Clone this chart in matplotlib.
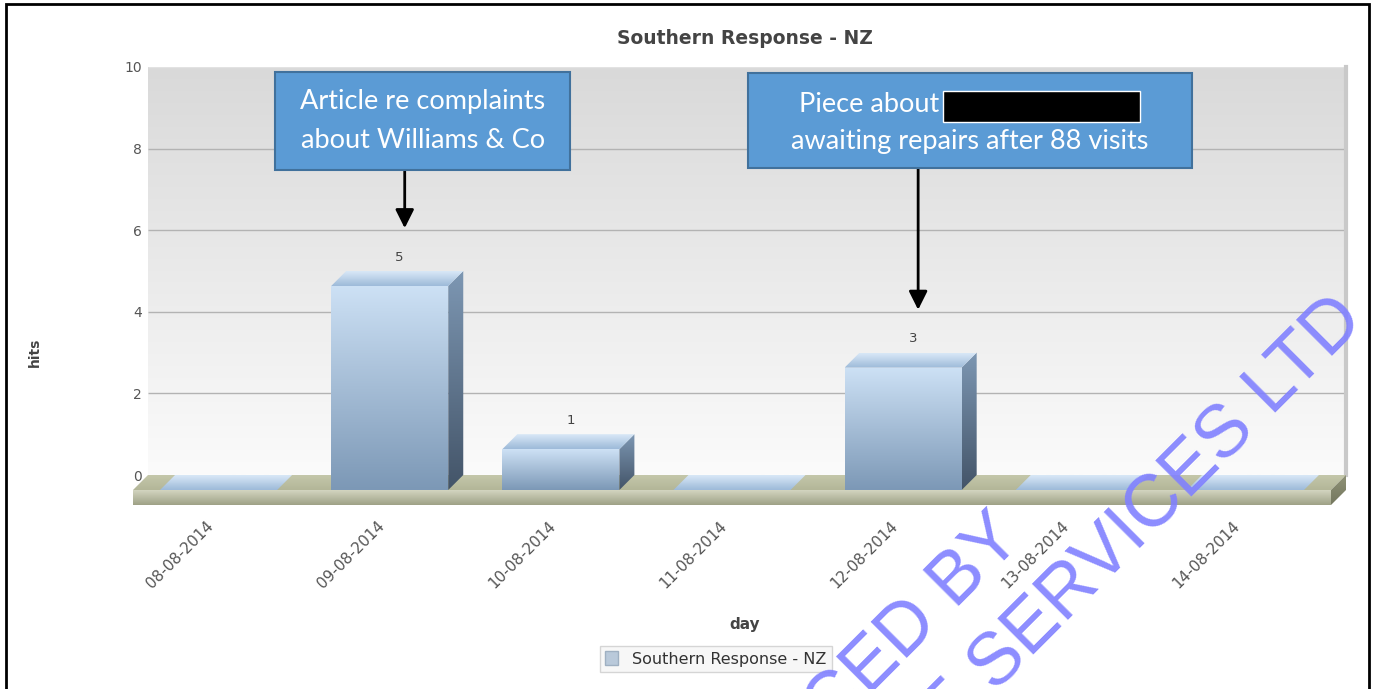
import matplotlib
matplotlib.use("Agg")
import matplotlib.pyplot as plt
import matplotlib.transforms as mtransforms
from matplotlib.patches import Polygon, Rectangle, Patch
from matplotlib.colors import LinearSegmentedColormap
import numpy as np

# data
days = ["08-08-2014", "09-08-2014", "10-08-2014", "11-08-2014",
        "12-08-2014", "13-08-2014", "14-08-2014"]
hits = [0, 5, 1, 0, 3, 0, 0]
y_ticks = [0, 2, 4, 6, 8, 10]

series_name = "Southern Response - NZ"
note_1_top = "Article re complaints"
note_1_bottom = "about Williams & Co"
note_2_top = "Piece about"
note_2_bottom = "awaiting repairs after 88 visits"
note_bars = [1, 4]
mark_1 = "PRODUCED BY"
mark_2 = "SOUTHERN RESPONSE EARTHQUAKE SERVICES LTD"

W, H = 1376, 689
fig = plt.figure(figsize=(W / 100, H / 100), dpi=100)
fig.patch.set_facecolor("white")


def fx(px):
    return px / W


def fy(py):  # py counted from the top of the picture
    return 1 - py / H


# depth of the fake 3d look, in data units
dx = 15 / 171.14
dy = 0.3676

ax = fig.add_axes([fx(133), fy(505), fx(1346) - fx(133), fy(67) - fy(505)])
ax.set_xlim(-0.5 - dx, 6.5)
ax.set_ylim(-2 * dy, 10)
ax.set_facecolor("none")
for s in ax.spines.values():
    s.set_visible(False)


def grad_poly(pts, c_end, c_start, z, horiz=False):
    poly = Polygon(pts, closed=True, facecolor="none", edgecolor="none", zorder=z)
    ax.add_patch(poly)
    xs = [p[0] for p in pts]
    ys = [p[1] for p in pts]
    cmap = LinearSegmentedColormap.from_list("g", [c_start, c_end])
    g = np.linspace(0, 1, 256).reshape(-1, 1)
    if horiz:
        g = g.T
    im = ax.imshow(g, cmap=cmap, extent=(min(xs), max(xs), min(ys), max(ys)),
                   origin="lower", aspect="auto", zorder=z, interpolation="bilinear")
    im.set_clip_path(poly)


# back wall
grad_poly([(-0.5, 0), (6.5, 0), (6.5, 10), (-0.5, 10)], "#d9d9d9", "#fbfbfb", 1)
ax.hlines(y_ticks[1:-1], -0.5, 6.5, color="#b3b3b3", lw=1, zorder=2)
ax.hlines([10], -0.5, 6.5, color="#e2e2e2", lw=1, zorder=2)
ax.plot([6.5, 6.5], [0, 10], color="#c9c9c9", lw=3, zorder=2, clip_on=False)

# floor slab
grad_poly([(-0.5, 0), (6.5, 0), (6.5 - dx, -dy), (-0.5 - dx, -dy)], "#c4c7aa", "#b3b698", 3)
grad_poly([(-0.5 - dx, -dy), (6.5 - dx, -dy), (6.5 - dx, -2 * dy), (-0.5 - dx, -2 * dy)],
          "#d3d5c0", "#9ea186", 3)
grad_poly([(6.5 - dx, -dy), (6.5, 0), (6.5, -dy), (6.5 - dx, -2 * dy)], "#8f9277", "#74775e", 3)

# bars
w = 0.684
for i, v in enumerate(hits):
    xl, xr = i - w / 2, i + w / 2
    if v > 0:
        grad_poly([(xl - dx, -dy), (xr - dx, -dy), (xr - dx, v - dy), (xl - dx, v - dy)],
                  "#cde1f5", "#7c98b6", 5)
        grad_poly([(xr - dx, -dy), (xr, 0), (xr, v), (xr - dx, v - dy)],
                  "#7d97b3", "#435468", 5)
        ax.text(i - 0.03, v + 0.34, str(v), ha="center", va="center",
                fontsize=9.5, color="#444444", zorder=8)
    grad_poly([(xl - dx, v - dy), (xr - dx, v - dy), (xr, v), (xl, v)],
              "#d9e8f7", "#9dbad9", 6)

# ticks
ax.set_xticks(range(len(days)))
ax.set_xticklabels(days, rotation=45, ha="right", va="center",
                   rotation_mode="anchor", fontsize=11, color="#555555")
ax.set_yticks(y_ticks)
ax.set_yticklabels([str(t) for t in y_ticks], fontsize=10, color="#555555")
ax.tick_params(length=0, pad=0)
off_x = mtransforms.ScaledTranslation(-23 / 100, -19 / 100, fig.dpi_scale_trans)
for lab in ax.get_xticklabels():
    lab.set_transform(lab.get_transform() + off_x)
off_y = mtransforms.ScaledTranslation(9 / 100, 0, fig.dpi_scale_trans)
for lab in ax.get_yticklabels():
    lab.set_transform(lab.get_transform() + off_y)

fig.text(fx(745), fy(39), series_name, ha="center", va="center",
         fontsize=13.5, fontweight="bold", color="#444444")
fig.text(fx(35), fy(352), "hits", ha="center", va="center", rotation=90,
         fontsize=10, fontweight="bold", color="#444444")
fig.text(fx(745), fy(625), "day", ha="center", va="center",
         fontsize=11, fontweight="bold", color="#444444")

leg = ax.legend(handles=[Patch(facecolor="#b9c9da", edgecolor="#9fb0c2")],
                labels=[series_name], loc="center",
                bbox_to_anchor=(fx(716), fy(659)), bbox_transform=fig.transFigure,
                frameon=True, fancybox=False, fontsize=11.5, handlelength=0.8,
                handleheight=1.0, borderpad=0.3, handletextpad=0.9)
leg.get_frame().set_edgecolor("#cccccc")
leg.get_frame().set_facecolor("#f6f6f6")
leg.get_frame().set_linewidth(1)
for t in leg.get_texts():
    t.set_color("#333333")

# annotation boxes
box_fc, box_ec = "#5b9bd5", "#41719c"
fig.add_artist(Rectangle((fx(275), fy(170)), fx(570) - fx(275), fy(72) - fy(170),
                         transform=fig.transFigure, facecolor=box_fc, edgecolor=box_ec,
                         lw=1.5, zorder=10))
fig.text(fx(423), fy(102), note_1_top, ha="center", va="center", fontsize=19.5,
         family="Lato", color="white", zorder=11)
fig.text(fx(423), fy(140), note_1_bottom, ha="center", va="center", fontsize=19.5,
         family="Lato", color="white", zorder=11)

fig.add_artist(Rectangle((fx(748), fy(168)), fx(1192) - fx(748), fy(73) - fy(168),
                         transform=fig.transFigure, facecolor=box_fc, edgecolor=box_ec,
                         lw=1.5, zorder=10))
fig.text(fx(799), fy(104), note_2_top, ha="left", va="center", fontsize=19.5,
         family="Lato", color="white", zorder=11)
fig.add_artist(Rectangle((fx(943), fy(122)), fx(1140) - fx(943), fy(91) - fy(122),
                         transform=fig.transFigure, facecolor="black", edgecolor="white",
                         lw=1, zorder=12))
fig.text(fx(970), fy(141), note_2_bottom, ha="center", va="center", fontsize=19.5,
         family="Lato", color="white", zorder=11)

start = mtransforms.blended_transform_factory(ax.transData, fig.transFigure)
for i, top in zip(note_bars, [fy(171), fy(169)]):
    ax.annotate("", xy=(i, hits[i] + 1.05), xycoords="data",
                xytext=(i, top), textcoords=start,
                arrowprops=dict(arrowstyle="-|>,head_length=0.8,head_width=0.4",
                                color="black", lw=2, mutation_scale=14,
                                shrinkA=0, shrinkB=0),
                zorder=12, annotation_clip=False)

# watermark
for txt, (px, py) in [(mark_1, (1024, 540)), (mark_2, (1366, 322))]:
    fig.text(fx(px), fy(py), txt, ha="right", va="baseline", rotation=45,
             rotation_mode="anchor", fontsize=53, family="Liberation Sans",
             color="#8080ff", alpha=0.9, zorder=20)

# outer frame
fig.add_artist(Rectangle((fx(6), -0.01), fx(1369) - fx(6), fy(4) + 0.01,
                         transform=fig.transFigure, facecolor="none",
                         edgecolor="black", lw=2, zorder=30))

fig.savefig("out.png", dpi=100)
